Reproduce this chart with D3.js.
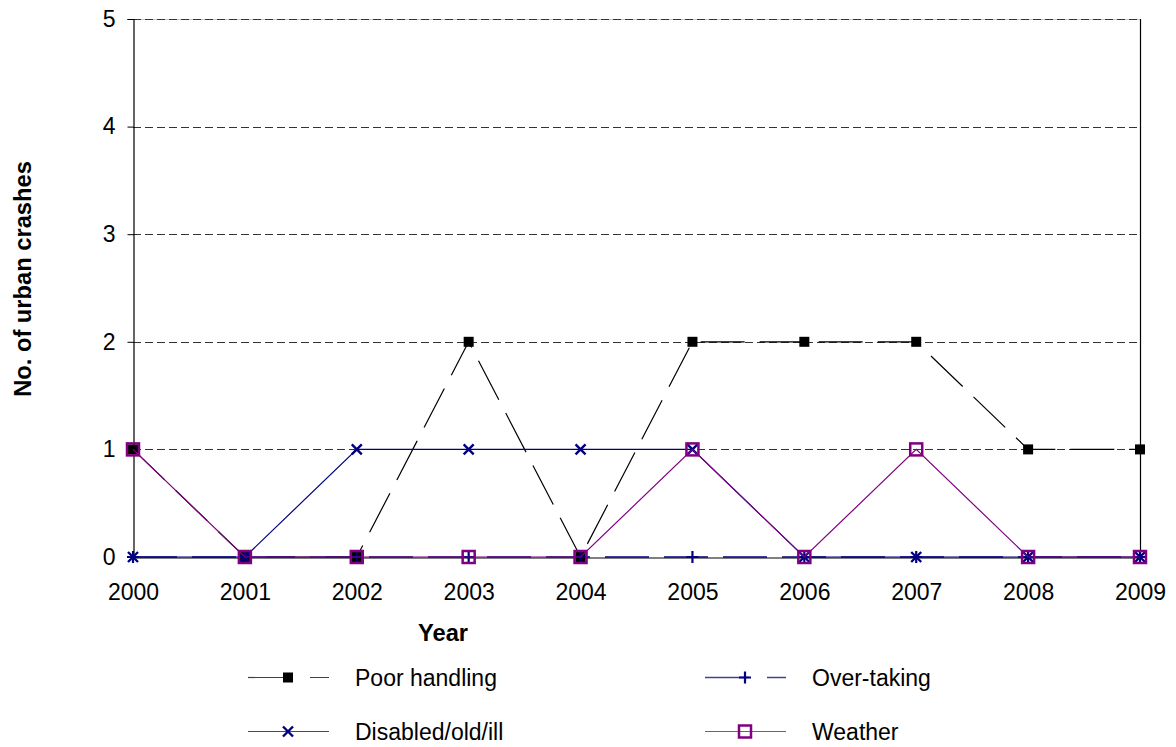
<!DOCTYPE html>
<html>
<head>
<meta charset="utf-8">
<script src="https://cdn.jsdelivr.net/npm/d3@7"></script>
<style>
  html, body { margin: 0; padding: 0; background: #fff; }
  svg { display: block; font-family: "Liberation Sans", Arial, sans-serif; }
</style>
</head>
<body>
<svg id="chart" width="1176" height="747"></svg>
<script>
const years = ["2000","2001","2002","2003","2004","2005","2006","2007","2008","2009"];
const poorHandling = [1,0,0,2,0,2,2,2,1,1];
const overTaking   = [0,0,0,0,0,0,0,0,0,0];
const disabledOldIll = [0,0,1,1,1,1,0,0,0,0];
const weather      = [1,0,0,0,0,1,0,1,0,0];
const yTicks = [0,1,2,3,4,5];
const seriesNames = ["Poor handling","Over-taking","Disabled/old/ill","Weather"];

const series = [
  {name: seriesNames[0], values: poorHandling, color: "#000000", width: 1.2, dash: "44,15", marker: "square"},
  {name: seriesNames[1], values: overTaking, color: "#000080", width: 1.5, dash: "44,15", marker: "plus"},
  {name: seriesNames[2], values: disabledOldIll, color: "#000080", width: 1.2, dash: null, marker: "cross"},
  {name: seriesNames[3], values: weather, color: "#800080", width: 1.2, dash: null, marker: "hollowSquare"}
];

const svg = d3.select("#chart");
const mLeft = 133, mRight = 1140, mTop = 19, mBottom = 557;

const x = d3.scalePoint().domain(years).range([mLeft, mRight]);
const y = d3.scaleLinear().domain([0, 5]).range([mBottom, mTop]);

// plot border (top light gray, right black)
svg.append("line").attr("x1", mLeft).attr("x2", mRight).attr("y1", mTop + 0.5).attr("y2", mTop + 0.5)
  .attr("stroke", "#c8c8c8").attr("stroke-width", 1);
svg.append("line").attr("x1", mRight + 0.5).attr("x2", mRight + 0.5).attr("y1", mTop).attr("y2", mBottom)
  .attr("stroke", "#000").attr("stroke-width", 1.2);

// gridlines
svg.append("g").selectAll("line").data(yTicks.filter(d => d > 0)).join("line")
  .attr("x1", mLeft).attr("x2", mRight)
  .attr("y1", d => Math.round(y(d)) + 0.5).attr("y2", d => Math.round(y(d)) + 0.5)
  .attr("stroke", "#333").attr("stroke-width", 1).attr("stroke-dasharray", "8,4");

// y axis
const yAxis = d3.axisLeft(y).tickValues(yTicks).tickSize(6).tickPadding(12).tickFormat(d3.format("d"));
const gy = svg.append("g").attr("transform", `translate(${mLeft + 0.5},0)`).call(yAxis);
gy.select(".domain").attr("stroke", "#000").attr("stroke-width", 1.2);
gy.selectAll(".tick line").attr("stroke", "#000");
gy.selectAll(".tick text").attr("font-size", 23).attr("fill", "#000")
  .attr("font-family", "Liberation Sans, Arial, sans-serif");

// x axis
const xAxis = d3.axisBottom(x).tickSize(0).tickPadding(26);
const gx = svg.append("g").attr("transform", `translate(0,${mBottom + 0.5})`).call(xAxis);
gx.select(".domain").attr("stroke", "#000").attr("stroke-width", 1);
gx.selectAll(".tick text").attr("font-size", 23).attr("fill", "#000")
  .attr("font-family", "Liberation Sans, Arial, sans-serif");

// axis titles
svg.append("text").attr("x", 443).attr("y", 641).attr("text-anchor", "middle")
  .attr("font-size", 23.7).attr("font-weight", "bold").text("Year");
svg.append("text").attr("transform", `translate(31,279) rotate(-90)`).attr("text-anchor", "middle")
  .attr("font-size", 23.7).attr("font-weight", "bold").text("No. of urban crashes");

function drawMarker(g, type, color) {
  if (type === "square") {
    g.append("rect").attr("x", -5).attr("y", -5).attr("width", 10).attr("height", 10).attr("fill", "#000");
  } else if (type === "plus") {
    g.append("path").attr("d", "M-6,0H6M0,-6V6").attr("stroke", color).attr("stroke-width", 2.2).attr("fill", "none");
  } else if (type === "cross") {
    g.append("path").attr("d", "M-5,-5L5,5M-5,5L5,-5").attr("stroke", color).attr("stroke-width", 2.4).attr("fill", "none");
  } else if (type === "hollowSquare") {
    g.append("rect").attr("x", -6).attr("y", -6).attr("width", 12).attr("height", 12)
      .attr("fill", "none").attr("stroke", color).attr("stroke-width", 2.5);
  }
}

const line = d3.line().x((d, i) => x(years[i])).y(d => y(d));

series.forEach(s => {
  const g = svg.append("g");
  g.append("path").datum(s.values).attr("d", line).attr("fill", "none")
    .attr("stroke", s.color).attr("stroke-width", s.width)
    .attr("stroke-dasharray", s.dash);
  s.values.forEach((v, i) => {
    const mg = g.append("g").attr("transform", `translate(${x(years[i])},${y(v)})`);
    drawMarker(mg, s.marker, s.color);
  });
});

// legend
const legendPos = [
  {lx: 248, ly: 677}, {lx: 705, ly: 677},
  {lx: 248, ly: 731}, {lx: 705, ly: 731}
];
series.forEach((s, i) => {
  const p = legendPos[i];
  const g = svg.append("g").attr("transform", `translate(${p.lx},${p.ly})`);
  g.append("line").attr("x1", 0).attr("x2", 81).attr("y1", 0.5).attr("y2", 0.5)
    .attr("stroke", s.color).attr("stroke-width", s.width).attr("stroke-opacity", 0.75)
    .attr("stroke-dasharray", s.dash ? "44,18" : null);
  const mg = g.append("g").attr("transform", "translate(40,0.5)");
  drawMarker(mg, s.marker, s.color);
  g.append("text").attr("x", 107).attr("y", 8.5).attr("font-size", 23).attr("fill", "#000").text(s.name);
});
</script>
</body>
</html>
